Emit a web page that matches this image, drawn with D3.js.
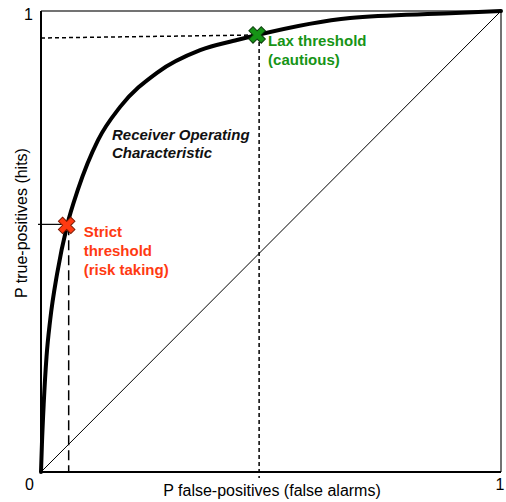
<!DOCTYPE html>
<html>
<head>
<meta charset="utf-8">
<script src="https://cdn.jsdelivr.net/npm/d3@7"></script>
<style>
  body { margin: 0; background: #fff; }
  svg { display: block; font-family: "Liberation Sans", Arial, sans-serif; }
</style>
</head>
<body>
<svg id="chart" width="506" height="502"></svg>
<script>
// ROC curve (false-positive rate, hit rate)
const curveFpr = [0, 0.002, 0.006, 0.012, 0.020, 0.035, 0.057, 0.080, 0.124, 0.172, 0.252, 0.346, 0.426, 0.470, 0.672, 0.889, 1];
const curveHit = [0, 0.060, 0.150, 0.250, 0.330, 0.430, 0.536, 0.612, 0.720, 0.792, 0.866, 0.915, 0.937, 0.948, 0.985, 0.995, 1];

// the two operating points
const thresholdNames = ["strict", "lax"];
const thresholdFpr = [0.058, 0.472];
const thresholdHit = [0.535, 0.948];
const thresholdLabels = [["Strict", "threshold", "(risk taking)"], ["Lax threshold", "(cautious)"]];

const axisTicks = [0, 1];
const xTitle = "P false-positives (false alarms)";
const yTitle = "P true-positives (hits)";
const curveTitle = ["Receiver Operating", "Characteristic"];

const svg = d3.select("#chart");

const x = d3.scaleLinear().domain([0, 1]).range([41, 501]);
const y = d3.scaleLinear().domain([0, 1]).range([472, 11]);

const colors = { strict: "#ff3a12", lax: "#169416" };
const outline = { strict: "#7a1800", lax: "#0b3f0b" };

// frame: top and right lighter, left and bottom as axes
svg.append("line")
  .attr("x1", x(0)).attr("x2", x(1)).attr("y1", y(1)).attr("y2", y(1))
  .attr("stroke", "#444").attr("stroke-width", 1.5);
svg.append("line")
  .attr("x1", x(1)).attr("x2", x(1)).attr("y1", y(1)).attr("y2", y(0))
  .attr("stroke", "#444").attr("stroke-width", 1.5);

// chance diagonal
svg.append("line")
  .attr("x1", x(0)).attr("y1", y(0)).attr("x2", x(1)).attr("y2", y(1))
  .attr("stroke", "#000").attr("stroke-width", 1);

// guide lines for the thresholds
const sI = 0, lI = 1;
svg.append("line")
  .attr("x1", x(thresholdFpr[sI]) + 1).attr("x2", x(thresholdFpr[sI]) + 1)
  .attr("y1", y(thresholdHit[sI])).attr("y2", y(0))
  .attr("stroke", "#000").attr("stroke-width", 1.5)
  .attr("stroke-dasharray", "10 5");
svg.append("line")
  .attr("x1", x(0) - 3).attr("x2", x(thresholdFpr[sI]))
  .attr("y1", y(thresholdHit[sI]) - 1).attr("y2", y(thresholdHit[sI]) - 1)
  .attr("stroke", "#000").attr("stroke-width", 1.2);

svg.append("line")
  .attr("x1", x(thresholdFpr[lI]) + 1).attr("x2", x(thresholdFpr[lI]) + 1)
  .attr("y1", y(thresholdHit[lI])).attr("y2", y(0) + 6)
  .attr("stroke", "#000").attr("stroke-width", 1.5)
  .attr("stroke-dasharray", "4 3");
svg.append("line")
  .attr("x1", x(0)).attr("x2", x(thresholdFpr[lI]))
  .attr("y1", y(thresholdHit[lI]) + 3).attr("y2", y(thresholdHit[lI]))
  .attr("stroke", "#000").attr("stroke-width", 1.5)
  .attr("stroke-dasharray", "4 3");

// axes (left, bottom)
svg.append("line")
  .attr("x1", x(0)).attr("x2", x(0)).attr("y1", y(1)).attr("y2", y(0))
  .attr("stroke", "#000").attr("stroke-width", 2);
svg.append("line")
  .attr("x1", x(0)).attr("x2", x(1)).attr("y1", y(0)).attr("y2", y(0))
  .attr("stroke", "#000").attr("stroke-width", 2);

// ROC curve
const pts = curveFpr.map((f, i) => [f, curveHit[i]]);
const line = d3.line()
  .x((d) => x(d[0]))
  .y((d) => y(d[1]))
  .curve(d3.curveMonotoneX);

svg.append("path")
  .datum(pts)
  .attr("d", line)
  .attr("fill", "none")
  .attr("stroke", "#000")
  .attr("stroke-width", 4)
  .attr("stroke-linecap", "round");

// markers
const cross = d3.symbol().type(d3.symbolCross).size(170);
thresholdNames.forEach((name, i) => {
  svg.append("path")
    .attr("d", cross)
    .attr("transform", `translate(${x(thresholdFpr[i]) - 1},${y(thresholdHit[i])}) rotate(45)`)
    .attr("fill", colors[name])
    .attr("stroke", outline[name])
    .attr("stroke-width", 1);
});

// threshold labels
const labelPos = [
  [x(thresholdFpr[sI]) + 16, y(thresholdHit[sI]) + 12],
  [x(thresholdFpr[lI]) + 10, y(thresholdHit[lI]) + 11],
];
thresholdNames.forEach((name, i) => {
  const t = svg.append("text")
    .attr("x", labelPos[i][0])
    .attr("y", labelPos[i][1])
    .attr("fill", colors[name])
    .style("font-size", "15px")
    .style("font-weight", "bold");
  thresholdLabels[i].forEach((s, j) => {
    t.append("tspan")
      .attr("x", labelPos[i][0])
      .attr("dy", j === 0 ? 0 : 19)
      .text(s);
  });
});

// curve title
const ct = svg.append("text")
  .attr("x", 112).attr("y", 140)
  .style("font-size", "15px")
  .style("font-weight", "bold")
  .style("font-style", "italic")
  .attr("fill", "#111");
curveTitle.forEach((s, j) => {
  ct.append("tspan").attr("x", 112).attr("dy", j === 0 ? 0 : 18).text(s);
});

// tick labels 0 / 1
svg.append("text").attr("x", x(0) - 8).attr("y", y(1) + 9)
  .attr("text-anchor", "end").style("font-size", "16px").text(axisTicks[1]);
svg.append("text").attr("x", x(0) - 7).attr("y", y(0) + 18)
  .attr("text-anchor", "end").style("font-size", "16px").text(axisTicks[0]);
svg.append("text").attr("x", x(1) - 1).attr("y", y(0) + 18)
  .attr("text-anchor", "middle").style("font-size", "16px").text(axisTicks[1]);

// axis titles
svg.append("text")
  .attr("x", (x(0) + x(1)) / 2 + 1)
  .attr("y", 496)
  .attr("text-anchor", "middle")
  .style("font-size", "16px")
  .text(xTitle);

svg.append("text")
  .attr("transform", `translate(27,${y(0.54)}) rotate(-90)`)
  .attr("text-anchor", "middle")
  .style("font-size", "16px")
  .text(yTitle);
</script>
</body>
</html>
